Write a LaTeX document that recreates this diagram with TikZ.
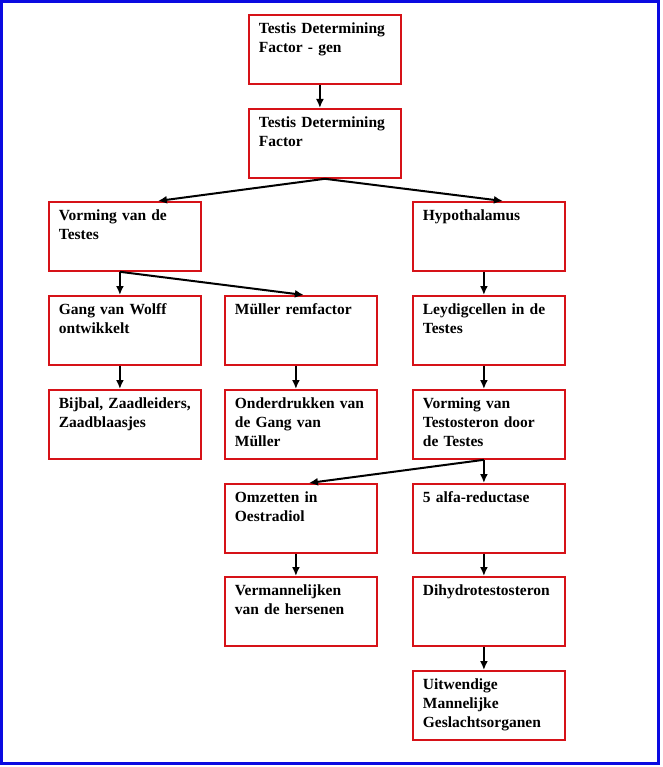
\documentclass[tikz,border=0pt]{standalone}
\usepackage{fontspec}
\setmainfont{Liberation Serif}
\usepackage{xcolor}
\usetikzlibrary{calc,arrows.meta}
\definecolor{boxRed}{RGB}{214,18,24}
\definecolor{frameBlue}{RGB}{10,10,225}

\begin{document}
\begin{tikzpicture}
[x=1pt, y=-1pt,
 lineDecorate/.style={-{Latex[length=9pt,width=8pt]},line width=2pt},
 boxDecorate/.style={draw=boxRed, line width=1.8pt, anchor=north west, align=left,
   text width=132pt, inner xsep=10pt, inner ysep=0pt, minimum width=151pt,
   text height=19pt, text depth=50pt,
   font=\fontsize{15.5}{19}\selectfont\bfseries}]

 \useasboundingbox (0,0) rectangle (662,767);
 \draw[frameBlue, line width=3pt] (1.5,1.5) rectangle (658,763.5);

 \node (tdfGen) at (248,14) [boxDecorate] {Testis Determining\\Factor - gen};
 \node (tdf) at (248,108) [boxDecorate] {Testis Determining\\Factor};

 \node (vorming) at (48,201) [boxDecorate] {Vorming van de\\Testes};
 \node (hypo) at (412,201) [boxDecorate] {Hypothalamus};

 \node (wolff) at (48,295) [boxDecorate] {Gang van Wolff\\ontwikkelt};
 \node (muller) at (224,295) [boxDecorate] {Müller remfactor};
 \node (leydig) at (412,295) [boxDecorate] {Leydigcellen in de\\Testes};

 \node (bijbal) at (48,389) [boxDecorate] {Bijbal, Zaadleiders,\\Zaadblaasjes};
 \node (onder) at (224,389) [boxDecorate] {Onderdrukken van\\de Gang van\\Müller};
 \node (testo) at (412,389) [boxDecorate] {Vorming van\\Testosteron door\\de Testes};

 \node (omzet) at (224,483) [boxDecorate] {Omzetten in\\Oestradiol};
 \node (alfa) at (412,483) [boxDecorate] {5 alfa-reductase};

 \node (verman) at (224,576) [boxDecorate] {Vermannelijken\\van de hersenen};
 \node (dht) at (412,576) [boxDecorate] {Dihydrotestosteron};

 \node (uitw) at (412,670) [boxDecorate] {Uitwendige\\Mannelijke\\Geslachtsorganen};

\path
 \foreach \a/\b in {tdfGen/tdf, vorming/wolff, wolff/bijbal, muller/onder,
                    hypo/leydig, leydig/testo, testo/alfa, omzet/verman,
                    alfa/dht, dht/uitw}
        {
          ($(\a.south)+(-5,0)$) edge[lineDecorate] ($(\b.north)+(-5,0)$)
 }
 (tdf.south) edge[lineDecorate] ($(vorming.north)+(33,0)$)
 (tdf.south) edge[lineDecorate] ($(hypo.north)+(14,0)$)
 ($(vorming.south)+(-5,0)$) edge[lineDecorate] ($(muller.north)+(3,0)$)
 ($(testo.south)+(-5,0)$) edge[lineDecorate] ($(omzet.north)+(8,0)$);
\end{tikzpicture}
\end{document}
